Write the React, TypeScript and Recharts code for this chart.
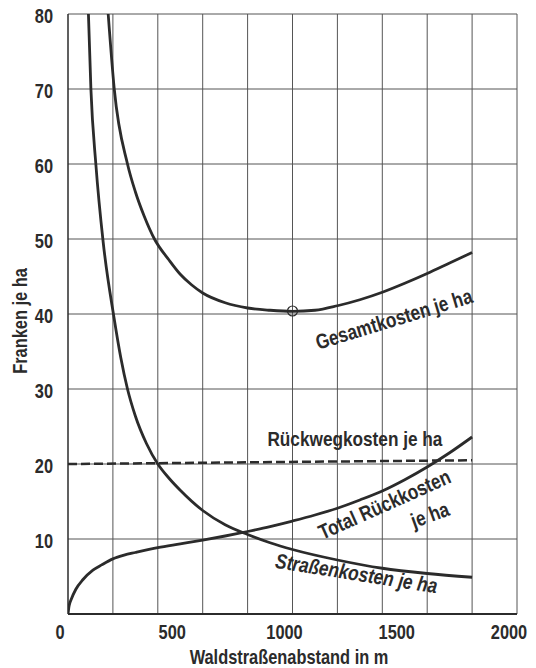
import React from "react";
import { LineChart, Line, XAxis, YAxis, ReferenceLine, ReferenceDot } from "recharts";

const FONT = '"Liberation Sans", Arial, sans-serif';
const INK = "#2b2b2b";
const SQUEEZE = 0.82;

// Gesamtkosten je ha
const gesamtX = [179, 206, 265, 300, 340, 385, 450, 500, 550, 600, 700, 800, 900, 1000, 1100, 1200, 1300, 1400, 1500, 1600, 1700, 1800];
const gesamtY = [80, 70, 60, 56.3, 53.0, 50.0, 47.2, 45.3, 43.9, 42.8, 41.5, 40.8, 40.5, 40.35, 40.5, 41.1, 41.9, 42.9, 44.1, 45.4, 46.8, 48.2];

// Straßenkosten je ha
const strasseX = [91, 102, 124, 157, 205, 235, 265, 300, 350, 400, 450, 500, 600, 700, 800, 900, 1000, 1200, 1400, 1600, 1800];
const strasseY = [80, 70, 60, 49.5, 39.5, 34.2, 30, 26.4, 22.7, 20, 18.1, 16.5, 13.8, 11.9, 10.6, 9.5, 8.6, 7.2, 6.1, 5.4, 4.9];

// Total Rückkosten je ha
const rueckX = [0, 5, 15, 35, 67, 111, 150, 200, 250, 300, 400, 500, 600, 700, 800, 900, 1000, 1100, 1200, 1300, 1400, 1500, 1600, 1700, 1800];
const rueckY = [0, 1.1, 2.0, 3.3, 4.6, 5.85, 6.55, 7.35, 7.85, 8.2, 8.85, 9.35, 9.85, 10.4, 11.0, 11.65, 12.4, 13.2, 14.1, 15.2, 16.4, 17.9, 19.6, 21.5, 23.6];

// Rückwegkosten je ha
const wegX = [0, 1800];
const wegY = [20, 20.5];

const xTicks = [0, 500, 1000, 1500, 2000];
const yTicks = [10, 20, 30, 40, 50, 60, 70, 80];
const gridX = [200, 400, 600, 800, 1000, 1200, 1400, 1600, 1800, 2000];
const gridY = [10, 20, 30, 40, 50, 60, 70, 80];

const minimumPoint = { x: 1000, y: 40.4 };

const toPts = (xs: number[], ys: number[]) => xs.map((x, i) => ({ x, y: ys[i] }));

type TxtProps = {
  x: number;
  y: number;
  angle?: number;
  anchor?: "start" | "middle" | "end";
  size?: number;
  italic?: boolean;
  baseline?: string;
  children: React.ReactNode;
};

const Txt = ({ x, y, angle = 0, anchor = "middle", size = 20, italic = false, baseline = "central", children }: TxtProps) => (
  <text
    x={0}
    y={0}
    transform={`translate(${x} ${y}) rotate(${angle}) scale(${SQUEEZE} 1)`}
    textAnchor={anchor}
    dominantBaseline={baseline}
    fontFamily={FONT}
    fontWeight="bold"
    fontStyle={italic ? "italic" : "normal"}
    fontSize={size}
    fill={INK}
  >
    {children}
  </text>
);

const curveLabel = (text: string, angle: number, italic = false, size = 21) => ({
  content: (p: any) => {
    const vb = p.viewBox || {};
    const cx = (vb.x ?? 0) + (vb.width ?? 0) / 2;
    const cy = (vb.y ?? 0) + (vb.height ?? 0) / 2;
    return (
      <Txt x={cx} y={cy} angle={angle} italic={italic} size={size}>
        {text}
      </Txt>
    );
  },
});

const XTick = (props: any) => {
  const { x, y, payload } = props;
  return (
    <Txt x={x - 8} y={y + 7} size={20}>
      {payload.value}
    </Txt>
  );
};

const YTick = (props: any) => {
  const { x, y, payload } = props;
  return (
    <Txt x={x} y={y + 2} anchor="end" size={20}>
      {payload.value}
    </Txt>
  );
};

export default function App() {
  return (
    <div style={{ position: "absolute", left: 0, top: 0, background: "#fff" }}>
      <LineChart width={536} height={668} margin={{ top: 14, right: 19, bottom: 24, left: 28 }}>
        <XAxis
          type="number"
          dataKey="x"
          domain={[0, 2000]}
          ticks={xTicks}
          tick={<XTick />}
          tickLine={false}
          tickSize={0}
          tickMargin={11}
          height={30}
          axisLine={{ stroke: INK, strokeWidth: 2 }}
          allowDataOverflow
        />
        <YAxis
          type="number"
          dataKey="y"
          domain={[0, 80]}
          ticks={yTicks}
          tick={<YTick />}
          tickLine={false}
          tickSize={0}
          tickMargin={15}
          width={40}
          axisLine={{ stroke: INK, strokeWidth: 1.5 }}
          allowDataOverflow
        />
        {gridX.map((v) => (
          <ReferenceLine key={"gx" + v} x={v} stroke="#555" strokeWidth={1} />
        ))}
        {gridY.map((v) => (
          <ReferenceLine key={"gy" + v} y={v} stroke="#555" strokeWidth={1} />
        ))}
        <Line data={toPts(wegX, wegY)} dataKey="y" type="linear" stroke={INK} strokeWidth={2.5} strokeDasharray="9 4" dot={false} isAnimationActive={false} />
        <Line data={toPts(gesamtX, gesamtY)} dataKey="y" type="monotone" stroke={INK} strokeWidth={2.8} dot={false} isAnimationActive={false} />
        <Line data={toPts(strasseX, strasseY)} dataKey="y" type="monotone" stroke={INK} strokeWidth={2.8} dot={false} isAnimationActive={false} />
        <Line data={toPts(rueckX, rueckY)} dataKey="y" type="monotone" stroke={INK} strokeWidth={2.8} dot={false} isAnimationActive={false} />
        <ReferenceDot x={minimumPoint.x} y={minimumPoint.y} r={5} fill="none" stroke={INK} strokeWidth={1.2} />
        <ReferenceDot x={1452} y={39.3} r={0} fill="none" stroke="none" label={curveLabel("Gesamtkosten je ha", -17)} />
        <ReferenceDot x={1278} y={23.4} r={0} fill="none" stroke="none" label={curveLabel("Rückwegkosten je ha", 0)} />
        <ReferenceDot x={1410} y={14.6} r={0} fill="none" stroke="none" label={curveLabel("Total Rückkosten", -24)} />
        <ReferenceDot x={1612} y={13.2} r={0} fill="none" stroke="none" label={curveLabel("je ha", -20)} />
        <ReferenceDot x={1285} y={5.4} r={0} fill="none" stroke="none" label={curveLabel("Straßenkosten je ha", 9, true)} />
        <Txt x={20} y={321} angle={-90} size={20}>
          Franken je ha
        </Txt>
        <Txt x={289} y={657} size={20}>
          Waldstraßenabstand in m
        </Txt>
      </LineChart>
    </div>
  );
}
